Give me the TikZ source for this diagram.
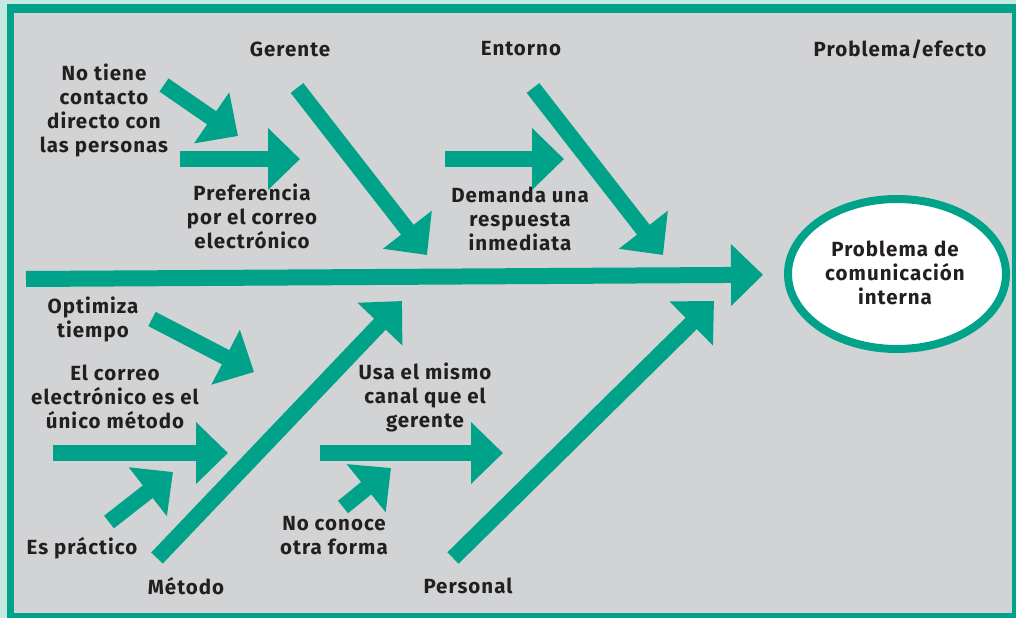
\documentclass[tikz,border=0pt]{standalone}
\usepackage{fontspec}
\setmainfont{Fira Sans}[LetterSpace=5]
\usetikzlibrary{arrows.meta,shapes.geometric}

\definecolor{fishteal}{HTML}{00A389}
\definecolor{panelgray}{HTML}{D1D3D4}
\definecolor{mintedge}{HTML}{C5E8E0}
\definecolor{inkdark}{HTML}{231F20}

\tikzset{
  bone/.style={line width=16pt, fishteal, -{Triangle[width=60pt,length=32pt]}},
  cause/.style={font=\bfseries\fontsize{20.5}{24}\selectfont, text=inkdark, align=center, inner sep=0pt},
  effect/.style={ellipse, draw=fishteal, line width=8pt, fill=white, minimum width=218pt, minimum height=150pt, inner sep=0pt}
}

\begin{document}
\begin{tikzpicture}[x=1pt,y=-1pt]
    % Frame
    \fill[mintedge] (0,0) rectangle (1016,618);
    \fill[fishteal] (7,4) rectangle (1016,618);
    \fill[panelgray] (14,13) rectangle (1012,613);
    \useasboundingbox (0,0) rectangle (1016,618);

    % Effect
    \node[effect] (efecto) at (897,274) {};
    \node[cause] (efectotxt) at (895,273) {Problema de\\comunicación\\interna};

    % Spine
    \coordinate (spine) at (26,279);
    \draw[bone, shorten >=21pt] (spine) -- (efecto);

    % Headings
    \node[cause] (gerente)  at (290,49)  {Gerente};
    \node[cause] (entorno)  at (521,49)  {Entorno};
    \node[cause] (probefecto) at (900,49) {Problema/efecto};
    \node[cause] (metodo)   at (186,586) {Método};
    \node[cause] (personal) at (468,586) {Personal};

    % Causes
    \node[cause] (notiene)     at (104,110) {No tiene\\contacto\\directo con\\las personas};
    \node[cause] (preferencia) at (252,216) {Preferencia\\por el correo\\electrónico};
    \node[cause] (demanda)     at (520,219) {Demanda una\\respuesta\\inmediata};
    \node[cause] (optimiza)    at (93,319)  {Optimiza\\tiempo};
    \node[cause] (correo)      at (115,397) {El correo\\electrónico es el\\único método};
    \node[cause] (usa)         at (425,397) {Usa el mismo\\canal que el\\gerente};
    \node[cause] (practico)    at (82,548)  {Es práctico};
    \node[cause] (noconoce)    at (334,536) {No conoce\\otra forma};

    % Bone ends
    \coordinate (gerA) at (297,88);   \coordinate (gerB) at (427,255);
    \coordinate (entA) at (533,88);   \coordinate (entB) at (663,255);
    \coordinate (metA) at (157,558);  \coordinate (metB) at (402,301);
    \coordinate (perA) at (453,558);  \coordinate (perB) at (714,301);
    \coordinate (notA) at (164,85);   \coordinate (notB) at (238,136);
    \coordinate (preA) at (180,159);  \coordinate (preB) at (300,159);
    \coordinate (demA) at (445,159);  \coordinate (demB) at (564,159);
    \coordinate (optA) at (152,319);  \coordinate (optB) at (254,372);
    \coordinate (corA) at (53,453);   \coordinate (corB) at (228,453);
    \coordinate (praA) at (109,522);  \coordinate (praB) at (173,472);
    \coordinate (usaA) at (320,453);  \coordinate (usaB) at (503,453);
    \coordinate (conA) at (343,507);  \coordinate (conB) at (391,468);

    % Main bones
    \draw[bone] (gerA) -- (gerB);
    \draw[bone] (entA) -- (entB);
    \draw[bone] (metA) -- (metB);
    \draw[bone] (perA) -- (perB);

    % Small bones
    \foreach \a/\b in {notA/notB, preA/preB, demA/demB, optA/optB,
                       corA/corB, praA/praB, usaA/usaB, conA/conB}
        \draw[bone] (\a) -- (\b);
\end{tikzpicture}
\end{document}
